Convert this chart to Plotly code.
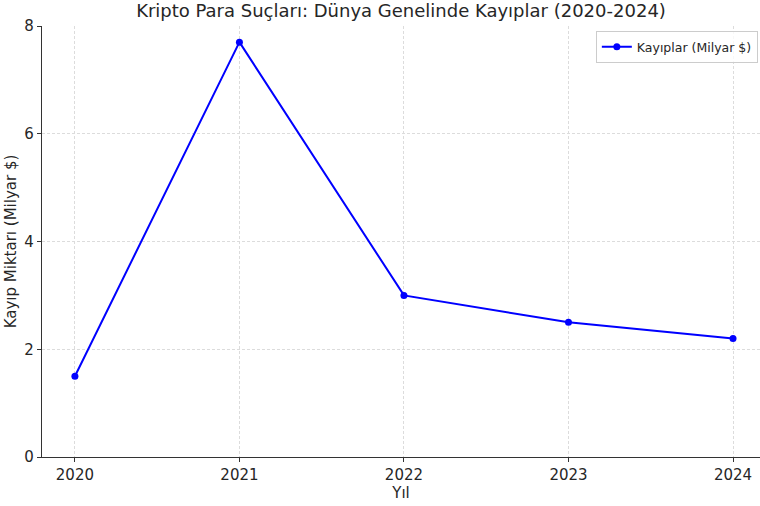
import plotly.graph_objects as go

years = [2020, 2021, 2022, 2023, 2024]
losses = [1.5, 7.7, 3.0, 2.5, 2.2]
series_name = "Kayıplar (Milyar $)"

fig = go.Figure()
fig.add_trace(go.Scatter(
    x=years, y=losses, mode="lines+markers", name=series_name,
    line=dict(color="#0000ff", width=2),
    marker=dict(color="#0000ff", size=7),
))

font = "DejaVu Sans, sans-serif"
fig.update_layout(
    width=760, height=506,
    margin=dict(l=42, r=0, t=26, b=49),
    paper_bgcolor="white", plot_bgcolor="white",
    font=dict(family=font, size=15, color="#262626"),
    title=dict(text="Kripto Para Suçları: Dünya Genelinde Kayıplar (2020-2024)",
               x=0.5, xref="paper", xanchor="center", y=0.978, yanchor="middle",
               font=dict(size=18, color="#262626")),
    showlegend=True,
    legend=dict(x=0.997, y=0.988, xanchor="right", yanchor="top",
                bgcolor="rgba(255,255,255,0.8)", bordercolor="#cccccc", borderwidth=1,
                font=dict(size=12.5)),
    xaxis=dict(
        range=[2019.8, 2024.164], tickmode="array", tickvals=years,
        ticktext=[str(y) for y in years],
        showgrid=True, gridcolor="#dcdcdc", griddash="3px,2px", gridwidth=1,
        showline=True, linecolor="#333333", linewidth=1.2,
        ticks="outside", ticklen=4, tickcolor="#333333",
        zeroline=False,
        title=dict(text="Yıl", font=dict(size=15), standoff=1),
    ),
    yaxis=dict(
        range=[0, 8], tickvals=[0, 2, 4, 6, 8],
        showgrid=True, gridcolor="#dcdcdc", griddash="3px,2px", gridwidth=1,
        showline=True, linecolor="#333333", linewidth=1.2,
        ticks="outside", ticklen=4, tickcolor="#333333",
        zeroline=False,
        title=dict(text="Kayıp Miktarı (Milyar $)", font=dict(size=15), standoff=4),
    ),
)

fig.write_html("out.html", config={"displayModeBar": False},
               post_script="document.body.style.margin='0';document.body.style.overflow='hidden';")
